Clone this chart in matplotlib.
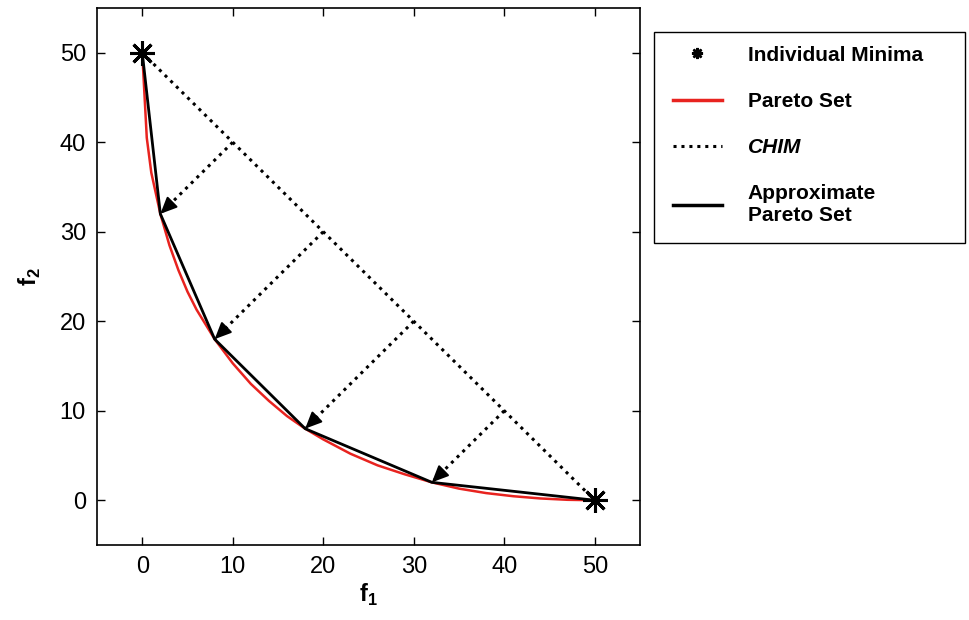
import matplotlib
matplotlib.use("Agg")
import matplotlib.pyplot as plt
from matplotlib.lines import Line2D
from matplotlib.patches import Rectangle

plt.rcParams['font.family'] = ['Liberation Sans', 'DejaVu Sans']
plt.rcParams['mathtext.fontset'] = 'custom'
plt.rcParams['mathtext.rm'] = 'Liberation Sans:bold'

# Individual minima (anchor points)
minima_f1 = [0, 50]
minima_f2 = [50, 0]

# Pareto set (red curve)
pareto_f1 = [0, 0.5, 1, 2, 3, 4, 5, 6, 8, 10, 12, 14, 16, 18, 20, 23, 26, 29, 32, 35, 38, 41, 44, 47, 50]
pareto_f2 = [50, 40.5, 36.6, 32, 28.5, 25.7, 23.3, 21.3, 18, 15.3, 13.0, 11.1, 9.4, 8, 6.8, 5.2, 3.9, 2.9, 2, 1.3, 0.8, 0.45, 0.2, 0.05, 0]

# Approximate Pareto set (black polyline)
approx_f1 = [0, 2, 8, 18, 32, 50]
approx_f2 = [50, 32, 18, 8, 2, 0]

# CHIM points where the normals start
chim_f1 = [10, 20, 30, 40]
chim_f2 = [40, 30, 20, 10]
# normal-line end points (on the approximate set)
end_f1 = [2, 8, 18, 32]
end_f2 = [32, 18, 8, 2]

legend_labels = ['Individual Minima', 'Pareto Set', 'CHIM', 'Approximate\nPareto Set']
ticks = [0, 10, 20, 30, 40, 50]

fig = plt.figure(figsize=(9.7, 6.2), dpi=100)
ax = fig.add_axes([97/970, 1-545/620, (640-97)/970, (545-8)/620])

ax.plot(pareto_f1, pareto_f2, color='#e8231f', lw=1.8, zorder=2)
ax.plot(approx_f1, approx_f2, color='black', lw=2.0, zorder=3)
ax.plot(minima_f1, minima_f2, color='black', lw=2.2, ls=(0, (1, 1.6)), zorder=2)

for x0, y0, x1, y1 in zip(chim_f1, chim_f2, end_f1, end_f2):
    ax.plot([x0, x1], [y0, y1], color='black', lw=2.2, ls=(0, (1, 1.6)), zorder=2)
    sx = 1 if x1 > x0 else -1
    sy = 1 if y1 > y0 else -1
    ax.annotate('', xy=(x1, y1), xytext=(x1 - 0.4 * sx, y1 - 0.4 * sy),
                arrowprops=dict(arrowstyle='-|>,head_length=1.0,head_width=0.45',
                                color='black', lw=1.5, shrinkA=0, shrinkB=0),
                zorder=4)

ax.plot(minima_f1, minima_f2, ls='none', marker=(8, 2, 0), ms=18, mew=2.2,
        color='black', zorder=5)

ax.set_xlim(-5, 55)
ax.set_ylim(-5, 55)
ax.set_xticks(ticks)
ax.set_yticks(ticks)
ax.tick_params(direction='in', top=True, right=True, length=6, width=1, labelsize=17, pad=8)
for s in ax.spines.values():
    s.set_linewidth(1.2)
ax.set_xlabel('f$_\\mathregular{1}$', fontsize=17, fontweight='bold', labelpad=3)
ax.set_ylabel('f$_\\mathregular{2}$', fontsize=17, fontweight='bold', labelpad=12)

# legend box
fig.patches.append(Rectangle((654/970, 1-243/620), (965-654)/970, (243-32)/620,
                             transform=fig.transFigure, facecolor='white',
                             edgecolor='black', lw=1.0, zorder=0))

handles = [
    Line2D([], [], ls='none', marker=(8, 2, 0), ms=8, mew=1.8, color='black'),
    Line2D([], [], color='#e8231f', lw=2.5),
    Line2D([], [], color='black', lw=2.2, ls=(0, (1, 1.6))),
    Line2D([], [], color='black', lw=2.5),
]
leg = fig.legend(handles, legend_labels, loc='upper left', bbox_to_anchor=(659/970, 1-32/620),
                 prop={'size': 15, 'weight': 'bold'}, frameon=False,
                 handlelength=2.35, handletextpad=1.25, labelspacing=1.31,
                 borderpad=0.65, borderaxespad=0)
leg.get_texts()[2].set_fontstyle('italic')

fig.savefig('out.png', dpi=100)
